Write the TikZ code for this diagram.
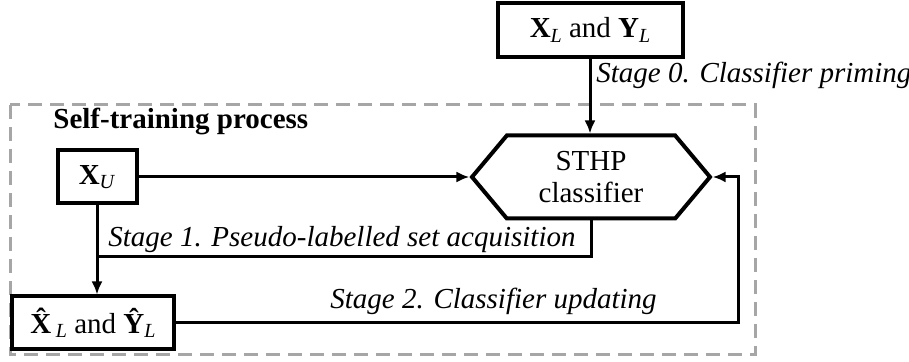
\documentclass[tikz,border=0pt]{standalone}
\usepackage{fontspec}
\setmainfont{Liberation Serif}
\usetikzlibrary{arrows.meta,shapes.symbols}

\newcommand{\sub}[1]{\raisebox{-0.35ex}{\fontsize{10}{10}\selectfont\textit{#1}}}
\newcommand{\bsub}[2]{\textbf{#1}\sub{#2}}
\newcommand{\bhat}[2]{\textbf{\^{#1}}\sub{#2}}

\tikzset{
  databox/.style={draw, line width=2pt, inner sep=0pt, minimum height=26.5pt},
  flow/.style={line width=1.5pt, -{Latex[length=6.5pt,width=5.5pt]}},
  stage/.style={font=\fontsize{14.5}{16}\selectfont\itshape, inner sep=0pt, anchor=base west},
}

\begin{document}
\begin{tikzpicture}[x=0.5pt,y=-0.5pt,font=\fontsize{14.5}{16}\selectfont]
\useasboundingbox (0,0) rectangle (909,362);
% self-training frame
\draw[gray!70, line width=1.5pt, dash pattern=on 7pt off 4pt] (10,105) rectangle (755,355);
\node[font=\fontsize{14.5}{16}\selectfont\bfseries, anchor=base west, inner sep=0pt] (st) at (53,129) {Self-training process};

% data sets and the classifier
\node[databox, minimum width=92.5pt, minimum height=27pt] (lab) at (590,30) {\bsub{X}{L} and \bsub{Y}{L}};
\node[databox, minimum width=39.5pt] (unl) at (97,177) {\bsub{X}{U}};
\node[databox, minimum width=81pt] (pseudo) at (93,323) {\bhat{X}{L} and \bhat{Y}{L}};
\node[draw, line width=2pt, signal, signal to=west and east, signal pointer angle=100,
      minimum width=119pt, minimum height=41.5pt, align=center, inner sep=0pt] (clf) at (591,177) {STHP\\classifier};

\coordinate (join) at (97,257);
\coordinate (turn) at (738,177);

% stage 0
\draw[flow] (lab.south) -- (lab.south |- clf.north);
\node[stage] (s0) at (596,83) {Stage 0. Classifier priming};
% stage 1
\draw[flow] (unl) -- (clf.west);
\draw[line width=1.5pt] (clf.south) |- (join);
\draw[flow] (unl.south) -- (unl.south |- pseudo.north);
\node[stage] (s1) at (108,247) {Stage 1. Pseudo-labelled set acquisition};
% stage 2
\draw[flow] (pseudo) -| (turn) -- (clf.east);
\node[stage] (s2) at (330,309) {Stage 2. Classifier updating};
\end{tikzpicture}
\end{document}
